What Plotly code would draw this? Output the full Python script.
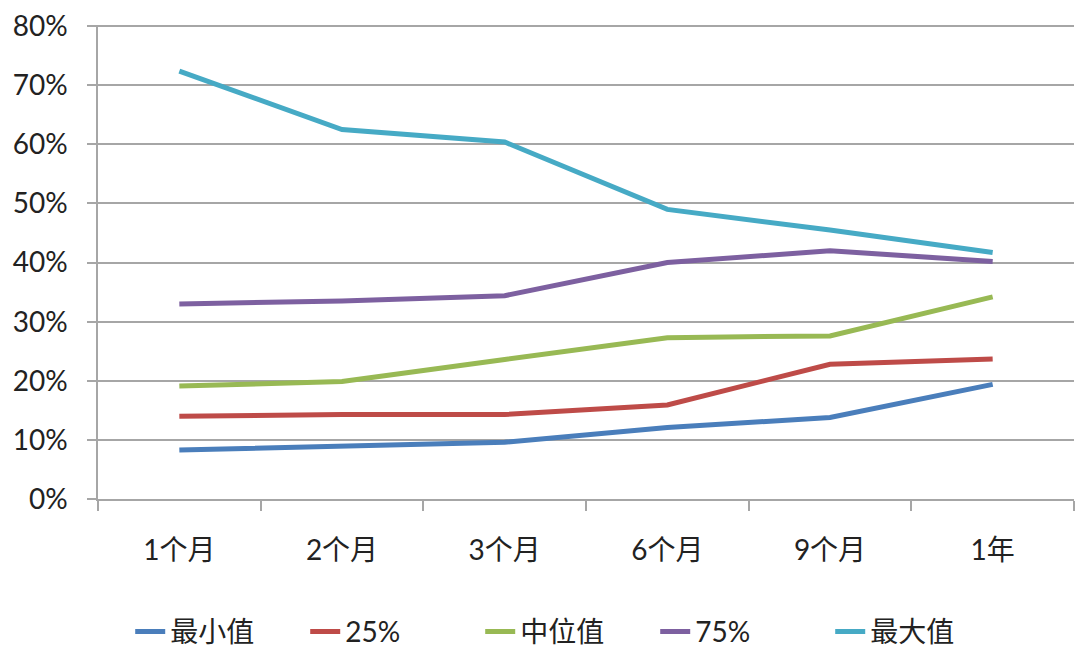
import plotly.graph_objects as go

categories = ["1个月", "2个月", "3个月", "6个月", "9个月", "1年"]
series_names = ["最小值", "25%", "中位值", "75%", "最大值"]
min_vals = [0.083, 0.090, 0.096, 0.121, 0.138, 0.194]
p25_vals = [0.140, 0.143, 0.143, 0.159, 0.228, 0.237]
median_vals = [0.191, 0.199, 0.236, 0.273, 0.276, 0.342]
p75_vals = [0.330, 0.335, 0.344, 0.400, 0.420, 0.402]
max_vals = [0.724, 0.625, 0.604, 0.490, 0.455, 0.417]
colors = ["#4A7EBB", "#BE4B48", "#98B954", "#7D60A0", "#46AAC5"]

font_family = "Lato, 'Noto Sans CJK SC', sans-serif"

fig = go.Figure()
for name, vals, c in zip(series_names, [min_vals, p25_vals, median_vals, p75_vals, max_vals], colors):
    fig.add_trace(go.Scatter(x=categories, y=vals, name=name, mode="lines",
                             line=dict(color=c, width=5)))

fig.update_layout(
    width=1086, height=663,
    margin=dict(l=90, r=20, t=17, b=172, autoexpand=False),
    paper_bgcolor="white", plot_bgcolor="white",
    font=dict(family=font_family, size=28, color="#222222"),
    legend=dict(orientation="h", x=0.033, xanchor="left", y=-0.28, yanchor="middle",
                entrywidth=130, font=dict(size=28, family=font_family)),
    showlegend=True,
)
fig.update_xaxes(type="category", range=[-0.5, 5.5], showline=True, linecolor="#a6a6a6",
                 linewidth=1.5, ticks="outside", tickson="boundaries", ticklen=10,
                 tickcolor="#a6a6a6", tickwidth=1.5, showgrid=False, automargin=False,
                 ticklabelstandoff=26, tickfont=dict(size=28))
fig.update_yaxes(range=[0, 0.802], dtick=0.1, tickformat=".0%", showline=True,
                 linecolor="#a6a6a6", linewidth=1.5, ticks="outside", ticklen=9,
                 tickcolor="#a6a6a6", tickwidth=1.5, showgrid=True, gridcolor="#a6a6a6",
                 gridwidth=1.5, zeroline=False, ticklabelstandoff=14, automargin=False,
                 ticklabeloverflow="allow", tickfont=dict(size=28))

fig.write_html("out.html")
